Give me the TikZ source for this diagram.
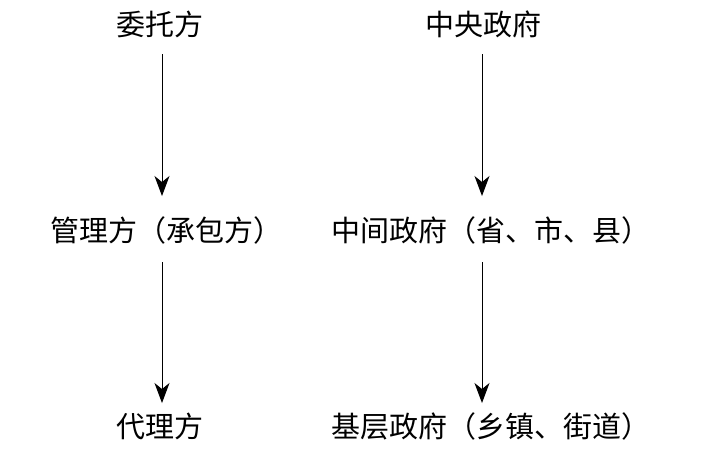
\documentclass[tikz,border=0pt]{standalone}
\usepackage{fontspec}
\newfontfamily\cjk{Noto Sans CJK SC}
\usetikzlibrary{arrows.meta}
\begin{document}
\begin{tikzpicture}[x=1pt,y=1pt,
  lbl/.style={inner sep=0pt, font=\cjk\fontsize{29}{29}\selectfont, text height=23.5pt, text depth=5.5pt},
  arr/.style={line width=1pt, -{Stealth[length=20pt,width=15pt,inset=6pt]}}]
\useasboundingbox (0,0) rectangle (723,-451);
\node[lbl] (wt) at (160,-26) {委托方};
\node[lbl] (gl) at (166,-232) {管理方（承包方）};
\node[lbl] (dl) at (160,-428) {代理方};
\node[lbl] (zy) at (483,-26) {中央政府};
\node[lbl] (zj) at (491,-232) {中间政府（省、市、县）};
\node[lbl] (jc) at (491,-428) {基层政府（乡镇、街道）};
\coordinate (lx) at (162,0);
\coordinate (rx) at (482,0);
\draw[arr] (lx |- 0,-54) -- (lx |- 0,-196);
\draw[arr] (lx |- 0,-262) -- (lx |- 0,-403);
\draw[arr] (rx |- 0,-54) -- (rx |- 0,-196);
\draw[arr] (rx |- 0,-262) -- (rx |- 0,-403);
\end{tikzpicture}
\end{document}
